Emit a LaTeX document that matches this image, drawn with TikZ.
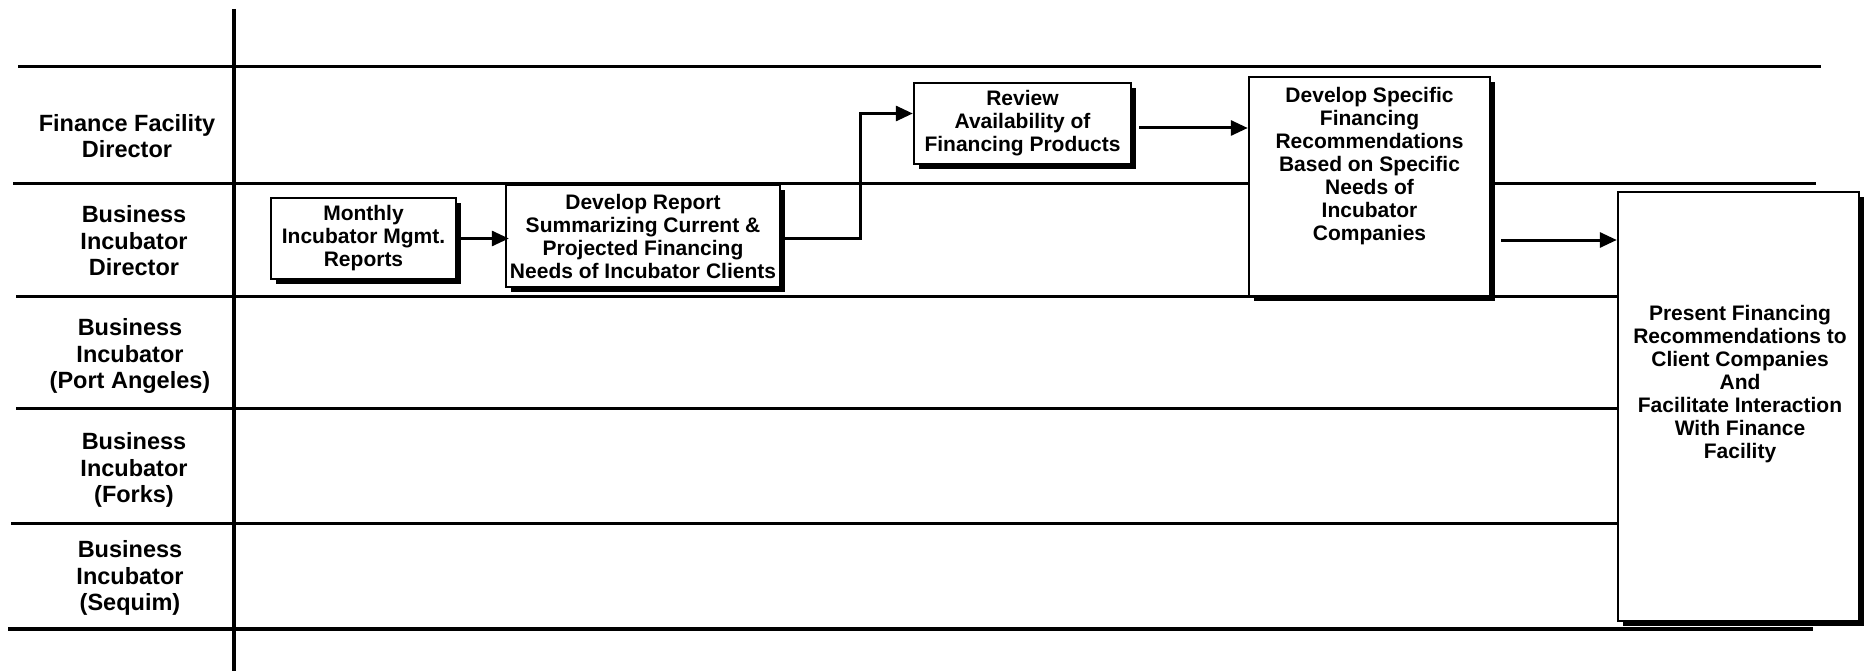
\documentclass[tikz,border=0pt]{standalone}
\usepackage{fontspec}
\setmainfont{Liberation Sans}
\usetikzlibrary{arrows.meta,shadows}
\begin{document}
\begin{tikzpicture}[x=1pt,y=-1pt,
  laneline/.style={line width=3pt},
  sepline/.style={line width=3.8pt},
  procbox/.style={draw, fill=white, line width=2.4pt, inner sep=0pt, align=center,
     font=\fontsize{21}{23}\selectfont\bfseries,
     drop shadow={shadow xshift=5pt, shadow yshift=-5pt, fill=black, opacity=1}},
  boxtext/.style={align=center, inner sep=0pt, font=\fontsize{21}{23}\selectfont\bfseries},
  lanelabel/.style={align=center, inner sep=0pt, font=\fontsize{23.5}{26.5}\selectfont\bfseries},
  arr/.style={line width=3pt, -{Triangle[length=17pt,width=15pt]}}
]
\useasboundingbox (0,0) rectangle (1870,671);

% swimlane lines
\coordinate (sepT) at (234,9);
\coordinate (sepB) at (234,671);
\draw[sepline] (sepT) -- (sepB);
\draw[laneline] (18,67) -- (1821,67);
\draw[laneline] (13,184) -- (1816,184);
\draw[laneline] (16,296) -- (1618,296);
\draw[laneline] (16,408) -- (1618,408);
\draw[laneline] (11,523) -- (1618,523);
\draw[line width=4pt] (8,629) -- (1813,629);

% lane labels
\node[lanelabel] (l1) at (127,136) {Finance Facility\\Director};
\node[lanelabel] (l2) at (134,241) {Business\\Incubator\\Director};
\node[lanelabel] (l3) at (130,356) {Business\\Incubator\\(Port Angeles)};
\node[lanelabel] (l4) at (134,470) {Business\\Incubator\\(Forks)};
\node[lanelabel] (l5) at (130,578) {Business\\Incubator\\(Sequim)};

% process boxes
\node[procbox, minimum width=185pt, minimum height=81pt] (monthly) at (363.5,238.5)
  {Monthly\\Incubator Mgmt.\\Reports};
\node[procbox, minimum width=274pt, minimum height=102pt] (report) at (643,236)
  {Develop Report\\Summarizing Current \&\\Projected Financing\\Needs of Incubator Clients};
\node[procbox, minimum width=217pt, minimum height=81pt] (review) at (1022.5,123.5)
  {Review\\Availability of\\Financing Products};
\node[procbox, minimum width=241pt, minimum height=219pt] (specific) at (1369.5,186.5) {};
\node[boxtext] (specifictext) at (1369.5,166)
  {Develop Specific\\Financing\\Recommendations\\Based on Specific\\Needs of\\Incubator\\Companies};
\node[procbox, minimum width=241pt, minimum height=429pt] (present) at (1738.5,406.5) {};
\node[boxtext] (presenttext) at (1740,384)
  {Present Financing\\Recommendations to\\Client Companies\\And\\Facilitate Interaction\\With Finance\\Facility};

% connectors
\draw[arr] ([xshift=4pt]monthly.east) -- ([xshift=4pt]monthly.east -| report.west);
\draw[arr] ([yshift=-2pt]report.east) -| ([xshift=79pt,yshift=10pt]report.east |- review.west) -- ([yshift=10pt]review.west);
\draw[arr] ([xshift=7pt,yshift=-4.5pt]review.east) -- ([yshift=-4.5pt]review.east -| specific.west);
\coordinate (spout) at ([xshift=10pt,yshift=-53.5pt]specific.east);
\draw[arr] (spout) -- (spout -| present.west);
\end{tikzpicture}
\end{document}
